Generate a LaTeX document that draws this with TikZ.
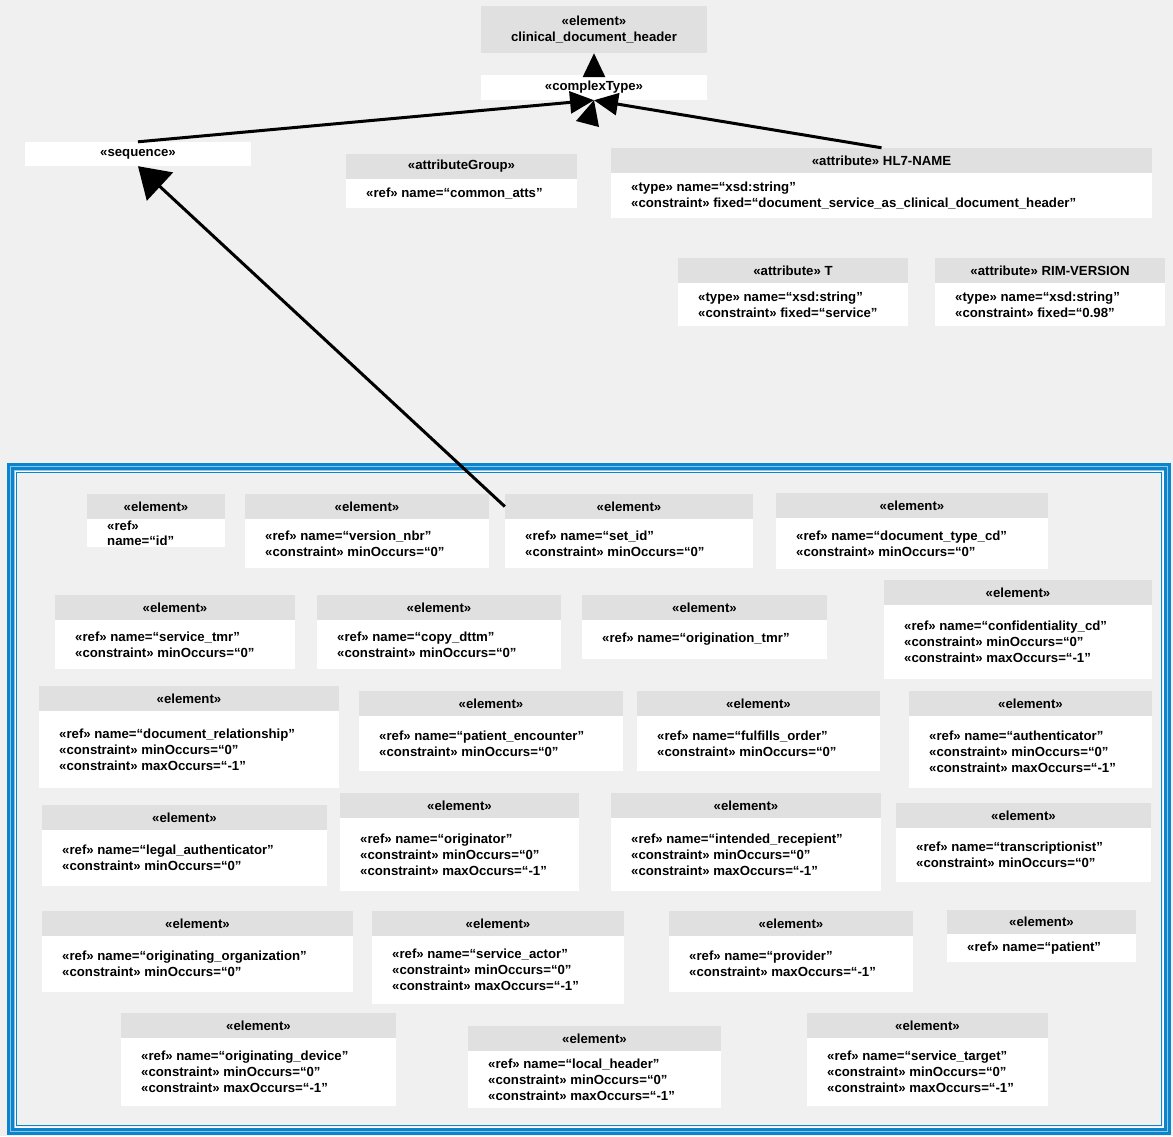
\documentclass[tikz,border=0pt]{standalone}
\usepackage{fontspec}
\setmainfont{Liberation Sans}
\usetikzlibrary{arrows.meta}
\definecolor{bg}{HTML}{F0F0F0}
\definecolor{hdr}{HTML}{E0E0E0}
\definecolor{frameblue}{HTML}{0A84CC}
\definecolor{framelight}{HTML}{8EC6EC}

\tikzset{
  hdrbox/.style={fill=hdr, inner sep=0pt, align=center},
  bodybox/.style={fill=white, inner sep=0pt},
  bodytext/.style={inner sep=0pt, align=left, anchor=west},
  conn/.style={line width=3pt, -{Triangle[length=24pt,width=22pt]}},
  fanconn/.style={line width=3pt, -{Triangle[length=30pt,width=38pt]}}
}

% \umlbox{name}{x left}{x right}{header top}{header bottom}{body bottom}{header text}{body lines}
\newcommand{\umlbox}[8]{%
  \node[hdrbox, minimum width={(#3-#2)*1pt}, minimum height={(#5-#4)*1pt}]
    (#1h) at ({(#2+#3)/2},{(#4+#5)/2}) {#7};
  \node[bodybox, minimum width={(#3-#2)*1pt}, minimum height={(#6-#5)*1pt}]
    (#1b) at ({(#2+#3)/2},{(#5+#6)/2}) {};
  \node[bodytext] (#1t) at ({#2+20},{(#5+#6)/2}) {#8};
}

\begin{document}
\begin{tikzpicture}[x=1pt, y=-1pt, font=\fontsize{13.2}{16}\selectfont\bfseries]
\useasboundingbox (0,0) rectangle (1173,1136);
\fill[bg] (0,0) rectangle (1173,1136);

% group frame (triple blue border)
\draw[framelight, line width=8pt] (11,467) rectangle (1167,1131);
\draw[frameblue, line width=2.4pt] (8.5,464.5) rectangle (1169.5,1133.5);
\draw[frameblue, line width=2.4pt] (12.5,468.5) rectangle (1165.5,1129.5);
\draw[white, line width=1pt] (15,471) rectangle (1163,1127);
\draw[frameblue, line width=1.2pt] (16.5,472.5) rectangle (1161.5,1125.5);

% top level schema parts
\node[hdrbox, minimum width=226pt, minimum height=47pt] (root) at (594,29.5)
  {«element»\\clinical\_document\_header};
\node[bodybox, minimum width=226pt, minimum height=25pt] (ctype) at (594,87.5) {«complexType»};
\node[bodybox, minimum width=226pt, minimum height=24pt] (seq) at (138,154) {«sequence»};

\umlbox{ag}{346}{577}{154}{179}{208}{«attributeGroup»}{«ref» name=“common\_atts”}
\umlbox{hl}{611}{1152}{148}{173}{218}{«attribute» HL7-NAME}{«type» name=“xsd:string”\\«constraint» fixed=“document\_service\_as\_clinical\_document\_header”}
\umlbox{at}{678}{908}{258}{283}{326}{«attribute» T}{«type» name=“xsd:string”\\«constraint» fixed=“service”}
\umlbox{rv}{935}{1165}{258}{283}{326}{«attribute» RIM-VERSION}{«type» name=“xsd:string”\\«constraint» fixed=“0.98”}

% sequence members
\umlbox{id}{87}{225}{494}{519}{547}{«element»}{«ref»\\[-1pt]name=“id”}
\umlbox{vn}{245}{489}{494}{519}{568}{«element»}{«ref» name=“version\_nbr”\\«constraint» minOccurs=“0”}
\umlbox{si}{505}{753}{494}{519}{568}{«element»}{«ref» name=“set\_id”\\«constraint» minOccurs=“0”}
\umlbox{dt}{776}{1048}{493}{518}{569}{«element»}{«ref» name=“document\_type\_cd”\\«constraint» minOccurs=“0”}

\umlbox{st}{55}{295}{595}{620}{669}{«element»}{«ref» name=“service\_tmr”\\«constraint» minOccurs=“0”}
\umlbox{cd}{317}{561}{595}{620}{669}{«element»}{«ref» name=“copy\_dttm”\\«constraint» minOccurs=“0”}
\umlbox{ot}{582}{827}{595}{620}{659}{«element»}{«ref» name=“origination\_tmr”}
\umlbox{cf}{884}{1152}{580}{605}{679}{«element»}{«ref» name=“confidentiality\_cd”\\«constraint» minOccurs=“0”\\«constraint» maxOccurs=“-1”}

\umlbox{dr}{39}{339}{686}{711}{788}{«element»}{«ref» name=“document\_relationship”\\«constraint» minOccurs=“0”\\«constraint» maxOccurs=“-1”}
\umlbox{pe}{359}{623}{691}{716}{771}{«element»}{«ref» name=“patient\_encounter”\\«constraint» minOccurs=“0”}
\umlbox{fo}{637}{880}{691}{716}{771}{«element»}{«ref» name=“fulfills\_order”\\«constraint» minOccurs=“0”}
\umlbox{au}{909}{1152}{691}{716}{788}{«element»}{«ref» name=“authenticator”\\«constraint» minOccurs=“0”\\«constraint» maxOccurs=“-1”}

\umlbox{la}{42}{327}{805}{830}{886}{«element»}{«ref» name=“legal\_authenticator”\\«constraint» minOccurs=“0”}
\umlbox{og}{340}{579}{793}{818}{891}{«element»}{«ref» name=“originator”\\«constraint» minOccurs=“0”\\«constraint» maxOccurs=“-1”}
\umlbox{ir}{611}{881}{793}{818}{891}{«element»}{«ref» name=“intended\_recepient”\\«constraint» minOccurs=“0”\\«constraint» maxOccurs=“-1”}
\umlbox{tr}{896}{1151}{803}{828}{882}{«element»}{«ref» name=“transcriptionist”\\«constraint» minOccurs=“0”}

\umlbox{oo}{42}{353}{911}{936}{992}{«element»}{«ref» name=“originating\_organization”\\«constraint» minOccurs=“0”}
\umlbox{sa}{372}{624}{911}{936}{1004}{«element»}{«ref» name=“service\_actor”\\«constraint» minOccurs=“0”\\«constraint» maxOccurs=“-1”}
\umlbox{pr}{669}{913}{911}{936}{992}{«element»}{«ref» name=“provider”\\«constraint» maxOccurs=“-1”}
\umlbox{pt}{947}{1136}{910}{934}{962}{«element»}{«ref» name=“patient”}

\umlbox{od}{121}{396}{1013}{1038}{1106}{«element»}{«ref» name=“originating\_device”\\«constraint» minOccurs=“0”\\«constraint» maxOccurs=“-1”}
\umlbox{lh}{468}{721}{1026}{1051}{1108}{«element»}{«ref» name=“local\_header”\\«constraint» minOccurs=“0”\\«constraint» maxOccurs=“-1”}
\umlbox{sg}{807}{1048}{1013}{1038}{1106}{«element»}{«ref» name=“service\_target”\\«constraint» minOccurs=“0”\\«constraint» maxOccurs=“-1”}

% connectors
\draw[conn] (ctype.north) -- (root.south);
\draw[conn] (seq.north) -- (ctype.south);
\draw[conn] (hlh.north) -- (ctype.south);
\fill (ctype.south) -- (576,121) -- (599,127) -- cycle;
\draw[fanconn] (sih.west) -- (seq.south);
\end{tikzpicture}
\end{document}
